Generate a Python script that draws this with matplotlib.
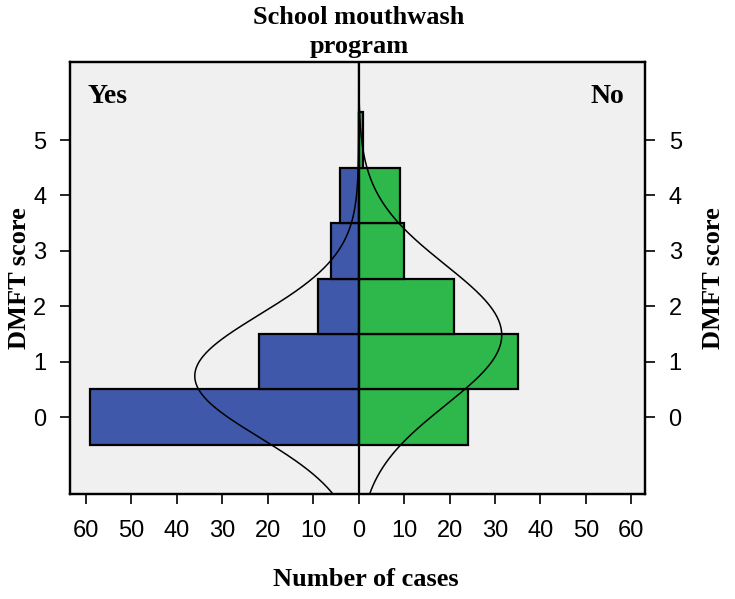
import numpy as np
import matplotlib
matplotlib.use("Agg")
import matplotlib.pyplot as plt

# DMFT score categories and case counts per group
scores = [0, 1, 2, 3, 4, 5]
yes_counts = [59, 22, 9, 6, 4, 0]
no_counts = [24, 35, 21, 10, 9, 1]
xticks = [-60, -50, -40, -30, -20, -10, 0, 10, 20, 30, 40, 50, 60]
xtick_labels = ["60", "50", "40", "30", "20", "10", "0", "10", "20", "30", "40", "50", "60"]

serif = ["Liberation Serif", "DejaVu Serif"]
sans = ["Liberation Sans", "DejaVu Sans"]
W, H = 735, 599


def fitted_curve(counts, yy):
    # normal fit of the histogram, scaled to counts (bin width 1)
    vals = np.repeat(scores, counts)
    mu = vals.mean()
    sd = vals.std(ddof=1)
    n = len(vals)
    return n / (sd * np.sqrt(2 * np.pi)) * np.exp(-0.5 * ((yy - mu) / sd) ** 2)


fig = plt.figure(figsize=(7.35, 5.99), dpi=100)
ax = fig.add_axes([70 / W, 1 - 494 / H, 575 / W, 432 / H])
ax.set_facecolor("#f0f0f0")

ax.barh(scores, [-v for v in yes_counts], height=1.0, color="#3f58a9",
        edgecolor="black", linewidth=1.6, zorder=2)
ax.barh(scores, no_counts, height=1.0, color="#2eb84c",
        edgecolor="black", linewidth=1.6, zorder=2)

yy = np.linspace(-1.6, 6.5, 400)
ax.plot(-fitted_curve(yes_counts, yy), yy, color="black", lw=1.1, zorder=3)
ax.plot(fitted_curve(no_counts, yy), yy, color="black", lw=1.1, zorder=3)

ax.axvline(0, color="black", lw=1.6, zorder=4)

ax.set_xlim(-63.5, 63)
ax.set_ylim(-1.39, 6.41)

for s in ax.spines.values():
    s.set_linewidth(1.6)

ax.set_xticks(xticks)
ax.set_xticklabels(xtick_labels, family=sans, fontsize=17)
ax.set_yticks(scores)
ax.set_yticklabels([str(s) for s in scores], family=sans, fontsize=17)
ax.tick_params(axis="x", direction="out", length=7, width=1.2, pad=12)
ax.tick_params(axis="y", direction="out", length=7, width=1.2, pad=10)

ax2 = ax.twinx()
ax2.set_ylim(ax.get_ylim())
ax2.set_yticks(scores)
ax2.set_yticklabels([str(s) for s in scores], family=sans, fontsize=17)
ax2.tick_params(axis="y", direction="out", length=7, width=1.2, pad=10)
for s in ax2.spines.values():
    s.set_linewidth(1.6)

ax.text(18 / 575, 0.919, "Yes", transform=ax.transAxes, family=serif,
        fontweight="bold", fontsize=20, ha="left", va="center")
ax.text(554 / 575, 0.919, "No", transform=ax.transAxes, family=serif,
        fontweight="bold", fontsize=20, ha="right", va="center")

fig.text(359 / W, 1 - 32 / H, "School mouthwash\nprogram", family=serif,
         fontweight="bold", fontsize=19, linespacing=1.3,
         ha="center", va="center")
fig.text(366 / W, 1 - 579 / H, "Number of cases", family=serif,
         fontweight="bold", fontsize=19, ha="center", va="center")
fig.text(20 / W, 1 - 278 / H, "DMFT score", family=serif, fontweight="bold",
         fontsize=19, rotation=90, ha="center", va="center")
fig.text(713 / W, 1 - 278 / H, "DMFT score", family=serif, fontweight="bold",
         fontsize=19, rotation=90, ha="center", va="center")

fig.savefig("out.png", dpi=100)
